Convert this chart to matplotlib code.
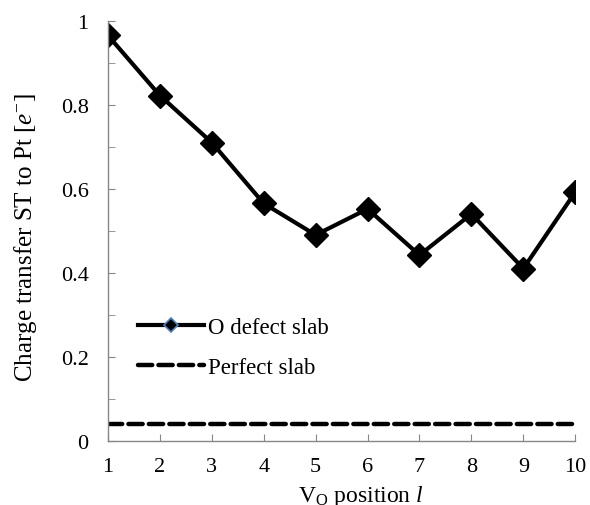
import matplotlib
matplotlib.use("Agg")
import matplotlib.pyplot as plt
from matplotlib.lines import Line2D
from matplotlib.ticker import MultipleLocator, FormatStrFormatter

# dados
posicoes = [1, 2, 3, 4, 5, 6, 7, 8, 9, 10]
defeito_o = [0.965, 0.822, 0.71, 0.565, 0.49, 0.552, 0.442, 0.54, 0.41, 0.592]
perfeito = [0.04] * 10

plt.rcParams["font.family"] = ["Liberation Serif", "DejaVu Serif"]
plt.rcParams["mathtext.fontset"] = "custom"
plt.rcParams["mathtext.rm"] = "Liberation Serif"
plt.rcParams["mathtext.it"] = "Liberation Serif:italic"

fig = plt.figure(figsize=(5.9, 5.06), dpi=100)
ax = fig.add_axes([0.183, 0.127, 0.792, 0.83])

ax.plot(posicoes, perfeito, color="black", lw=3.2, dashes=(3.2, 1.4), dash_capstyle="round")
ax.plot(posicoes, defeito_o, color="black", lw=3, marker="D", markersize=12)

ax.set_xlim(1, 10)
ax.set_ylim(0, 1)
ax.set_xticks(posicoes)
ax.yaxis.set_major_locator(MultipleLocator(0.2))
ax.yaxis.set_minor_locator(MultipleLocator(0.1))
ax.yaxis.set_major_formatter(FormatStrFormatter("%g"))

for lado in ["top", "right"]:
    ax.spines[lado].set_visible(False)
for lado in ["left", "bottom"]:
    ax.spines[lado].set_color("#868686")
    ax.spines[lado].set_linewidth(1)
ax.tick_params(which="both", color="#868686", direction="in", length=5, labelsize=16)
ax.tick_params(axis="y", which="major", pad=14)
ax.tick_params(axis="x", pad=12)

# rótulos
fig.text(26 / 590, 1 - 238 / 506, "Charge transfer ST to Pt [$\\mathit{e}^{-}$]",
         rotation=90, ha="center", va="center", fontsize=18)
ax.set_xlabel("V$_\\mathrm{O}$ position $\\mathit{l}$", fontsize=17, labelpad=6)
ax.xaxis.set_label_coords(0.542, -0.1)
ax.xaxis.label.set_va("top")

# legenda
h1 = Line2D([], [], color="black", lw=3, marker="D", markersize=7,
            markerfacecolor="black", markeredgecolor="#4f81bd", markeredgewidth=1.2)
h2 = Line2D([], [], color="black", lw=3.2, dashes=(3.2, 1.4), dash_capstyle="round")
ax.legend([h1, h2], ["O defect slab", "Perfect slab"], loc="lower left",
          bbox_to_anchor=(0.02, 0.1), frameon=False, fontsize=16.5,
          handlelength=2.9, handletextpad=0.15, labelspacing=0.85)

fig.savefig("out.png", dpi=100)
